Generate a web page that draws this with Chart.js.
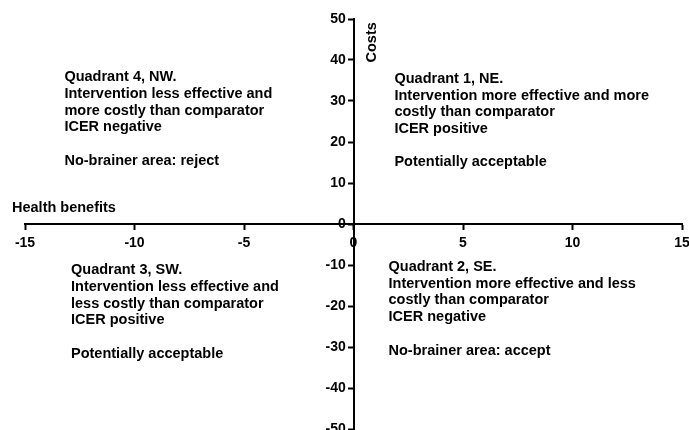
<!DOCTYPE html>
<html>
<head>
<meta charset="utf-8">
<script src="https://cdn.jsdelivr.net/npm/chart.js@4"></script>
<style>
  html, body { margin: 0; padding: 0; background: #fff; overflow: hidden; }
  #wrap { width: 689px; height: 430px; }
</style>
</head>
<body>
<div id="wrap"><canvas id="c" width="689" height="430"></canvas></div>
<script>
// ---- chart data ----
const xRange = [-15, 15];
const yRange = [-50, 50];
const xStep = 5;
const yStep = 10;
const xTitle = 'Health benefits';
const yTitle = 'Costs';
const points = []; // the plane carries no plotted observations

const q1Lines = ['Quadrant 1, NE.', 'Intervention more effective and more', 'costly than comparator', 'ICER positive', '', 'Potentially acceptable'];
const q2Lines = ['Quadrant 2, SE.', 'Intervention more effective and less', 'costly than comparator', 'ICER negative', '', 'No-brainer area: accept'];
const q3Lines = ['Quadrant 3, SW.', 'Intervention less effective and', 'less costly than comparator', 'ICER positive', '', 'Potentially acceptable'];
const q4Lines = ['Quadrant 4, NW.', 'Intervention less effective and', 'more costly than comparator', 'ICER negative', '', 'No-brainer area: reject'];

// ---- layout / style (anchors in data units) ----
const FONT = '"Liberation Sans", Arial, Helvetica, sans-serif';
const TEXT_SIZE = 14.5;
const TICK_SIZE = 14;
const blocks = [
  { lines: q1Lines, x: 1.87, y: 35.4 },
  { lines: q2Lines, x: 1.6, y: -10.5 },
  { lines: q3Lines, x: -12.9, y: -11.3 },
  { lines: q4Lines, x: -13.2, y: 35.8 }
];
const LINE_H = 16.7;

const textPlugin = {
  id: 'quadText',
  afterDraw(chart) {
    const ctx = chart.ctx;
    const xs = chart.scales.x, ys = chart.scales.y;
    ctx.save();
    ctx.fillStyle = '#000';
    ctx.font = 'bold ' + TEXT_SIZE + 'px ' + FONT;
    ctx.textAlign = 'left';
    ctx.textBaseline = 'middle';
    blocks.forEach(b => {
      const px = xs.getPixelForValue(b.x);
      const py = ys.getPixelForValue(b.y);
      b.lines.forEach((t, i) => { if (t) ctx.fillText(t, px, py + i * LINE_H); });
    });
    // axis titles
    const x0 = xs.getPixelForValue(0);
    const y0 = ys.getPixelForValue(0);
    ctx.fillText(xTitle, 12, y0 - 16);
    ctx.save();
    ctx.translate(x0 + 18, ys.getPixelForValue(44.3));
    ctx.rotate(-Math.PI / 2);
    ctx.textAlign = 'center';
    ctx.fillText(yTitle, 0, 0);
    ctx.restore();
    ctx.restore();
  }
};

const zeroPad = (s) => { s.paddingLeft = 0; s.paddingRight = 0; s.paddingTop = 0; s.paddingBottom = 0; };

new Chart(document.getElementById('c'), {
  type: 'scatter',
  data: { datasets: [{ data: points, pointRadius: 0 }] },
  options: {
    responsive: false,
    animation: false,
    devicePixelRatio: 1,
    layout: { padding: { left: 25, right: 7, top: 19, bottom: 1 } },
    plugins: { legend: { display: false }, tooltip: { enabled: false } },
    scales: {
      x: {
        type: 'linear',
        position: { y: 0 },
        min: xRange[0], max: xRange[1],
        afterFit: zeroPad,
        ticks: { stepSize: xStep, color: '#000', padding: 6, maxRotation: 0, autoSkip: false,
                 font: { family: FONT, size: TICK_SIZE, weight: 'bold' } },
        grid: { drawOnChartArea: false, drawTicks: true, tickLength: 5, tickWidth: 2, tickColor: '#000' },
        border: { display: true, color: '#000', width: 2 }
      },
      y: {
        type: 'linear',
        position: { x: 0 },
        min: yRange[0], max: yRange[1],
        afterFit: zeroPad,
        ticks: { stepSize: yStep, color: '#000', autoSkip: false,
                 callback: (v) => v + '\u00a0\u00a0',
                 font: { family: FONT, size: TICK_SIZE, weight: 'bold' } },
        grid: { drawOnChartArea: false, drawTicks: true, tickLength: 5, tickWidth: 2, tickColor: '#000' },
        border: { display: true, color: '#000', width: 2 }
      }
    }
  },
  plugins: [textPlugin]
});
</script>
</body>
</html>
